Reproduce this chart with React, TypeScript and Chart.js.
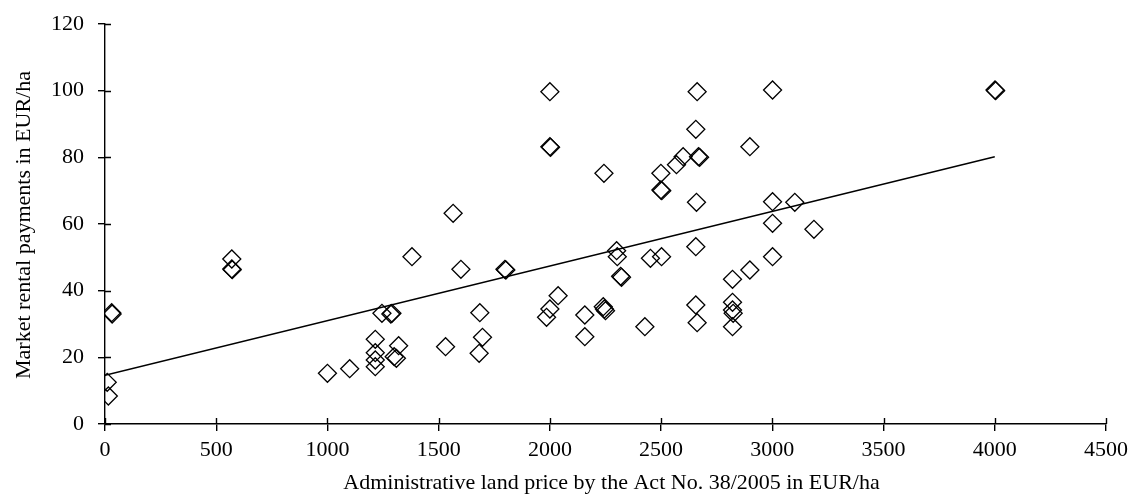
import React, { useEffect, useRef } from "react";
import { Chart, registerables } from "chart.js";

Chart.register(...registerables);

const landPrice = [
  10, 15, 30, 32, 570, 570, 572, 1000, 1100, 1215, 1215, 1215, 1215, 1245, 1285, 1290,
  1320, 1300, 1310, 1380, 1531, 1565, 1600, 1685, 1697, 1682, 1798, 1802, 1985, 2000,
  2000, 2000, 2003, 2037, 2157, 2157, 2240, 2245, 2250, 2243, 2300, 2303, 2318, 2322,
  2427, 2452, 2502, 2499, 2499, 2503, 2569, 2599, 2656, 2662, 2668, 2673, 2659, 2656,
  2656, 2662, 2821, 2821, 2821, 2824, 2821, 2899, 2899, 3001, 3001, 3001, 3001, 3101,
  3187, 4001, 4004,
];
const rentalPayment = [
  12.5, 8.4, 33.4, 33, 49.5, 46.5, 46.3, 15.2, 16.6, 25.4, 21.4, 19.2, 17.2, 33.2, 33, 33.2,
  23.5, 20.2, 19.7, 50.2, 23.2, 63.2, 46.4, 33.4, 26, 21.2, 46.4, 46.2, 32, 34.5,
  99.7, 83.2, 83, 38.5, 32.7, 26.2, 35.2, 34.5, 34, 75.2, 52, 50.2, 44.3, 44,
  29.2, 49.7, 50.2, 75.2, 70.2, 70, 77.8, 80.2, 88.4, 99.7, 80.2, 80, 66.5, 53.2,
  35.7, 30.4, 43.4, 36.5, 34.2, 33.2, 29.2, 83.2, 46.2, 100.2, 66.7, 60.2, 50.2, 66.5,
  58.4, 100.2, 100,
];
const trendX = [0, 4000];
const trendY = [14.6, 80.2];

const xTitle = "Administrative land price by the Act No. 38/2005 in EUR/ha";
const yTitle = "Market rental payments in EUR/ha";

const FONT = "'Liberation Serif', 'Times New Roman', serif";

const crossTicks = {
  id: "crossTicks",
  afterDraw(chart: any) {
    const ctx = chart.ctx;
    const xs = chart.scales.x;
    const ys = chart.scales.y;
    ctx.save();
    ctx.strokeStyle = "#000";
    ctx.lineWidth = 1.4;
    ctx.beginPath();
    xs.ticks.forEach((t: any) => {
      const px = Math.round(xs.getPixelForValue(t.value)) + 0.5;
      ctx.moveTo(px, ys.bottom);
      ctx.lineTo(px, ys.bottom - 6);
    });
    ys.ticks.forEach((t: any) => {
      const py = Math.round(ys.getPixelForValue(t.value)) + 0.5;
      ctx.moveTo(xs.left, py);
      ctx.lineTo(xs.left + 6, py);
    });
    ctx.stroke();
    // axis titles
    ctx.fillStyle = "#000";
    ctx.font = `22px ${FONT}`;
    ctx.textAlign = "center";
    ctx.textBaseline = "alphabetic";
    ctx.fillText(xTitle, (xs.left + xs.right) / 2 + 6, 489);
    ctx.textBaseline = "middle";
    ctx.translate(24, (ys.top + ys.bottom) / 2 + 1);
    ctx.rotate(-Math.PI / 2);
    ctx.fillText(yTitle, 0, 0);
    ctx.restore();
  },
};

export default function App() {
  const ref = useRef<HTMLCanvasElement>(null);
  useEffect(() => {
    if (!ref.current) return;
    const points = landPrice.map((x, i) => ({ x, y: rentalPayment[i] }));
    const line = trendX.map((x, i) => ({ x, y: trendY[i] }));
    const chart = new Chart(ref.current, {
      type: "scatter",
      data: {
        datasets: [
          {
            data: points,
            pointStyle: "rectRot",
            pointRadius: 9,
            pointHoverRadius: 9,
            pointBorderColor: "#000",
            pointBackgroundColor: "rgba(0,0,0,0)",
            pointBorderWidth: 1.3,
            showLine: false,
          },
          {
            type: "line",
            data: line,
            borderColor: "#000",
            borderWidth: 1.5,
            pointRadius: 0,
            fill: false,
          },
        ],
      },
      plugins: [crossTicks],
      options: {
        animation: false,
        responsive: true,
        maintainAspectRatio: false,
        layout: { padding: { top: 24, right: 26, left: 0, bottom: 0 } },
        plugins: { legend: { display: false }, tooltip: { enabled: false } },
        scales: {
          x: {
            type: "linear",
            min: 0,
            max: 4500,
            ticks: {
              stepSize: 500,
              color: "#000",
              font: { family: FONT, size: 22 },
              padding: 6,
              maxRotation: 0,
              callback: (v: any) => String(v),
            },
            grid: { display: true, drawOnChartArea: false, drawTicks: true, tickLength: 7, color: "#000", lineWidth: 1.4 },
            border: { display: true, color: "#000", width: 1.4 },
            afterFit(scale: any) {
              scale.height = 72;
              scale.paddingLeft = 0;
              scale.paddingRight = 0;
            },
          },
          y: {
            type: "linear",
            min: 0,
            max: 120,
            ticks: {
              stepSize: 20,
              color: "#000",
              font: { family: FONT, size: 22 },
              padding: 14,
              callback: (v: any) => String(v),
            },
            grid: { display: true, drawOnChartArea: false, drawTicks: true, tickLength: 7, color: "#000", lineWidth: 1.4 },
            border: { display: true, color: "#000", width: 1.4 },
            afterFit(scale: any) {
              scale.width = 105;
              scale.paddingTop = 0;
              scale.paddingBottom = 0;
            },
          },
        },
      },
    });
    return () => chart.destroy();
  }, []);
  return (
    <div style={{ position: "absolute", left: 0, top: 0, width: 1132, height: 496 }}>
      <canvas ref={ref} />
    </div>
  );
}
